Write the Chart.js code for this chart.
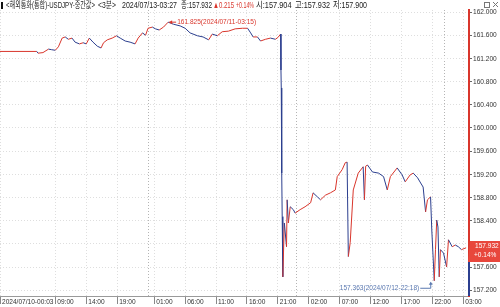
<!DOCTYPE html>
<html>
<head>
<meta charset="utf-8">
<script src="https://cdn.jsdelivr.net/npm/chart.js@4/dist/chart.umd.min.js"></script>
<style>
html, body { margin: 0; padding: 0; background: #fff; }
#wrap { width: 500px; height: 307px; position: relative; }
</style>
</head>
<body>
<div id="wrap"><canvas id="fxChart" width="500" height="307"></canvas></div>
<script>
// USDJPY 3분봉 (샘플링), hours since 2024/07/10 00:00
const hours = [
  0.05, 6.0, 6.2, 7.0, 7.9, 8.4, 9.0, 9.5, 10.1, 10.6, 11.1, 11.7, 12.2, 12.9, 13.5, 14.0,
  14.5, 15.1, 15.8, 16.4, 16.8, 17.4, 18.2, 18.9, 19.5, 20.3, 21.1, 21.9, 22.4, 23.1, 23.6, 24.0,
  24.7, 25.2, 25.8, 26.5, 27.25, 28.1, 29.2, 30.0, 30.8, 32.0, 32.9, 33.8, 34.4, 35.2, 36.0, 37.0,
  38.1, 39.3, 40.1, 40.6, 41.0, 41.7, 42.2, 43.0, 43.8, 44.6, 45.0, 45.45, 45.5, 45.55, 45.6, 45.65,
  45.7, 45.8, 46.05, 46.4, 46.5, 46.7, 47.0, 47.5, 47.8, 48.6, 49.4, 50.3, 50.7, 51.4, 51.9, 52.7,
  53.5, 54.3, 54.6, 55.0, 55.4, 55.9, 56.2, 56.4, 56.7, 57.2, 58.0, 58.8, 59.0, 59.2, 59.5, 60.3,
  61.3, 62.1, 62.7, 63.2, 64.3, 65.1, 65.6, 66.4, 66.9, 67.6, 68.1, 68.5, 68.9, 69.2, 69.7, 69.9,
  70.3, 70.5, 70.7, 70.9, 71.1, 71.3, 71.8, 72.3, 72.6, 73.2, 73.7, 74.2, 74.7, 75.45
];
const prices = [
  161.32, 161.32, 161.29, 161.30, 161.36, 161.35, 161.34, 161.40, 161.55, 161.57, 161.53, 161.55, 161.48, 161.45, 161.47, 161.45,
  161.55, 161.48, 161.41, 161.38, 161.47, 161.52, 161.55, 161.59, 161.55, 161.50, 161.48, 161.45, 161.55, 161.64, 161.60, 161.72,
  161.74, 161.71, 161.69, 161.74, 161.825, 161.79, 161.76, 161.72, 161.64, 161.59, 161.57, 161.52, 161.62, 161.59, 161.66, 161.67,
  161.71, 161.72, 161.72, 161.64, 161.57, 161.57, 161.50, 161.53, 161.55, 161.53, 161.56, 161.62, 161.00, 160.69, 159.67, 159.22,
  158.47, 157.43, 158.36, 157.95, 158.76, 158.36, 158.64, 158.59, 158.53, 158.59, 158.64, 158.71, 158.88, 158.81, 158.76, 158.84,
  158.88, 158.93, 159.16, 159.22, 159.28, 159.40, 159.41, 157.78, 158.02, 158.93, 159.22, 159.33, 158.76, 159.34, 159.36, 159.24,
  159.22, 159.16, 158.93, 159.16, 159.31, 159.19, 159.07, 159.19, 159.22, 159.14, 159.05, 158.98, 158.55, 158.76, 158.81, 158.24,
  157.363, 157.90, 158.41, 158.29, 157.43, 157.90, 157.84, 157.60, 158.07, 157.95, 157.98, 157.95, 157.90, 157.932
];

const yTicks = [157.2, 157.6, 158.0, 158.4, 158.8, 159.2, 159.6, 160.0, 160.4, 160.8, 161.2, 161.6, 162.0];
const xTickHours = [0.05, 9, 14, 19, 24, 25, 30, 35, 40, 45, 48, 50, 55, 60, 65, 70, 72, 75];
const xTickLabels = ['2024/07/10-00:03', '09:00', '14:00', '19:00', '', '01:00', '06:00', '11:00', '16:00',
  '21:00', '', '02:00', '07:00', '12:00', '17:00', '22:00', '', '03:00'];
const dayLines = [24, 48, 72];

const hiMark = { hour: 27.25, price: 161.825, text: '161.825(2024/07/11-03:15)' };
const loMark = { hour: 70.3, price: 157.363, text: '157.363(2024/07/12-22:18)' };
const lastPrice = 157.932;
const lastChange = '+0.14%';

const headerTexts = ['<해외통화(통합)-USDJPY-중간값>', '<3분>', '2024/07/13-03:27', '종:157.932',
  '▲0.215', '+0.14%', '시:157.904', '고:157.932', '저:157.900'];

const FONT = "'Liberation Sans', 'Noto Sans CJK KR', sans-serif";
const RED = '#d9362c';
const NAVY = '#2c3f8f';

// the original terminal uses a narrow font: squeeze all canvas text horizontally
const canvas = document.getElementById('fxChart');
const ctx = canvas.getContext('2d');
const rawFillText = ctx.fillText.bind(ctx);
ctx.fillText = (t, x, y, w) => {
  const nw = ctx.measureText(t).width * 0.82;
  rawFillText(t, x, y, (w === undefined || w === null) ? nw : Math.min(w, nw));
};

const overlay = {
  id: 'overlay',
  beforeDraw(chart) {
    const c = chart.ctx;
    c.save();
    c.fillStyle = '#fff';
    c.fillRect(0, 0, chart.width, chart.height);
    c.restore();
  },
  afterDraw(chart) {
    const c = chart.ctx;
    const xs = chart.scales.x, ys = chart.scales.y;
    const area = chart.chartArea;
    c.save();

    // header line
    c.font = '9px ' + FONT;
    c.textBaseline = 'middle';
    c.fillStyle = '#111';
    c.fillRect(1, 2, 2, 7);
    const hx = [6, 98, 122, 181, 213, 236, 256, 295, 333];
    const hw = [89, 18, 55, 31, 21, 18, 36, 35, 34];
    headerTexts.forEach((t, i) => {
      c.fillStyle = (i === 4 || i === 5) ? RED : '#222';
      c.fillText(t, hx[i], 6, hw[i]);
    });
    // window icons
    c.strokeStyle = '#777';
    c.lineWidth = 1;
    c.strokeRect(484.5, 2.5, 5, 5);
    c.beginPath();
    c.moveTo(493, 2); c.lineTo(498, 7);
    c.moveTo(498, 2); c.lineTo(493, 7);
    c.stroke();

    // high marker
    c.font = '8px ' + FONT;
    let px = xs.getPixelForValue(hiMark.hour);
    let py = ys.getPixelForValue(hiMark.price);
    c.strokeStyle = RED;
    c.fillStyle = RED;
    c.beginPath();
    c.moveTo(px + 1, py); c.lineTo(px + 8, py);
    c.stroke();
    c.beginPath();
    c.moveTo(px + 1, py); c.lineTo(px + 4, py - 2); c.lineTo(px + 4, py + 2); c.closePath();
    c.fill();
    c.textAlign = 'left';
    c.fillText(hiMark.text, px + 9, py);

    // low marker
    px = xs.getPixelForValue(loMark.hour);
    py = ys.getPixelForValue(loMark.price);
    c.strokeStyle = '#5a78b0';
    c.fillStyle = '#5a78b0';
    c.beginPath();
    c.moveTo(px - 14, py + 7.5); c.lineTo(px - 3.5, py + 7.5); c.lineTo(px - 3.5, py + 2);
    c.stroke();
    c.beginPath();
    c.moveTo(px - 3.5, py + 1); c.lineTo(px - 5.5, py + 4); c.lineTo(px - 1.5, py + 4); c.closePath();
    c.fill();
    c.textAlign = 'right';
    c.fillText(loMark.text, px - 15, py + 7);

    // current price box and lower axis part
    py = ys.getPixelForValue(lastPrice);
    const boxTop = Math.round(py) - 7, boxBot = Math.round(py) + 14;
    c.fillStyle = NAVY;
    c.fillRect(area.right - 1, boxBot, 2, area.bottom - boxBot);
    c.fillStyle = '#e8473c';
    c.beginPath();
    c.moveTo(area.right + 1, boxTop);
    c.lineTo(500, boxTop);
    c.lineTo(500, boxBot);
    c.lineTo(area.right - 1, boxBot);
    c.closePath();
    c.fill();
    c.fillStyle = '#fff';
    c.textAlign = 'left';
    c.fillText(lastPrice.toFixed(3), 475, boxTop + 5);
    c.fillText(lastChange, 474, boxTop + 14);
    c.restore();
  }
};

const fxChart = new Chart(ctx, {
  type: 'line',
  data: {
    datasets: [{
      data: hours.map((h, i) => ({ x: h, y: prices[i] })),
      borderWidth: 1,
      pointRadius: 0,
      tension: 0,
      borderColor: RED,
      segment: {
        borderColor: c => c.p1.parsed.y >= c.p0.parsed.y ? RED : NAVY
      }
    }]
  },
  options: {
    responsive: false,
    animation: false,
    devicePixelRatio: 1,
    layout: { padding: { top: 10, left: 0, right: 0, bottom: 0 } },
    plugins: { legend: { display: false }, tooltip: { enabled: false } },
    scales: {
      x: {
        type: 'linear',
        min: 0.05,
        max: 75.92,
        afterBuildTicks: s => { s.ticks = xTickHours.map(v => ({ value: v })); },
        afterFit: s => { s.height = 11; },
        ticks: {
          autoSkip: false, maxRotation: 0, align: 'start', labelOffset: 2, padding: -7,
          color: '#333', font: { size: 8, family: FONT },
          callback: v => { const i = xTickHours.indexOf(v); return i < 0 ? '' : xTickLabels[i]; }
        },
        grid: {
          color: c => (c.tick && dayLines.includes(c.tick.value)) ? '#b4b4b4' : '#dedede',
          tickColor: c => (c.tick && dayLines.includes(c.tick.value)) ? 'rgba(0,0,0,0)' : '#888',
          tickLength: 8,
          tickBorderDash: []
        },
        border: { color: '#9a9a9a', dash: [1, 2] }
      },
      y: {
        position: 'right',
        min: 157.1,
        max: 162.035,
        afterBuildTicks: s => { s.ticks = yTicks.map(v => ({ value: v })); },
        afterFit: s => { s.width = 31; },
        ticks: {
          padding: 1, color: '#333', font: { size: 8, family: FONT },
          callback: v => Number(v).toFixed(3)
        },
        grid: { color: '#dedede', tickColor: '#666', tickLength: 3, tickBorderDash: [] },
        border: { color: RED, width: 2, dash: [1, 2] }
      }
    }
  },
  plugins: [overlay]
});
</script>
</body>
</html>
